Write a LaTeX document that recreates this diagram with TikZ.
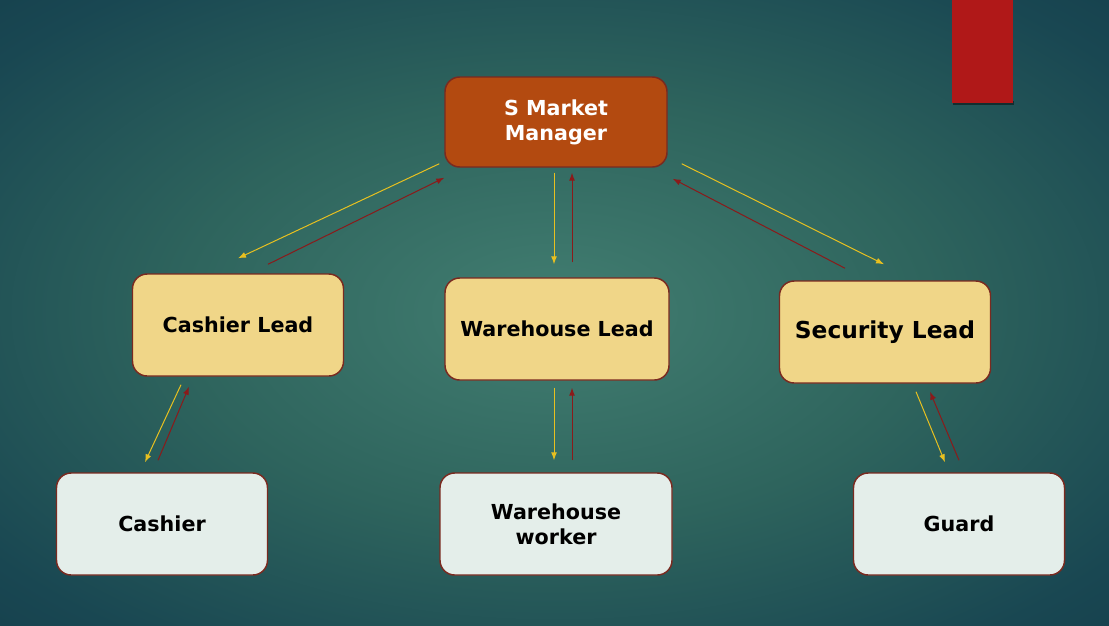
\documentclass[tikz,border=0pt]{standalone}
\usepackage{fontspec}
\setmainfont{DejaVu Sans}
\usetikzlibrary{arrows.meta}
\definecolor{bgin}{HTML}{427E71}
\definecolor{bgmid}{HTML}{2E645D}
\definecolor{bgedge}{HTML}{194752}
\definecolor{bgout}{HTML}{0E3141}
\definecolor{mgrfill}{HTML}{B34A10}
\definecolor{leadfill}{HTML}{F0D688}
\definecolor{staffill}{HTML}{E4EEEA}
\definecolor{boxline}{HTML}{7A2A20}
\definecolor{banner}{HTML}{B01818}
\definecolor{downline}{HTML}{E8C020}
\definecolor{upline}{HTML}{8B1A1A}
\pgfdeclareradialshading{bgglow}{\pgfpoint{0bp}{0bp}}{color(0bp)=(bgin); color(17bp)=(bgmid); color(32bp)=(bgedge); color(50bp)=(bgout)}

\begin{document}
\begin{tikzpicture}[x=0.75pt,y=-0.75pt,
    box/.style={draw=boxline, line width=1.1pt, rounded corners=11pt, inner sep=0pt,
      minimum width=158.25pt, minimum height=76.5pt, align=center,
      font=\bfseries\fontsize{15.5}{18.75}\selectfont},
    lead/.style={box, fill=leadfill},
    staff/.style={box, fill=staffill},
    down/.style={draw=downline, line width=0.75pt, -{Latex[length=6pt,width=4.5pt]}},
    up/.style={draw=upline, line width=0.75pt, -{Latex[length=6pt,width=4.5pt]}}]
    \shade[shading=bgglow] (0,0) rectangle (1109,625);
    \fill[black, opacity=0.45] (953,101) rectangle (1014,105);
    \fill[banner] (952,0) rectangle (1013,103);

    \node [box, fill=mgrfill, text=white, minimum width=166.5pt, minimum height=67.5pt] (mgr) at (556,122) {\raisebox{-2.2pt}{S Market}\\\raisebox{-2.2pt}{Manager}};
    \node [lead] (cl) at (238,325) {Cashier Lead};
    \node [lead, minimum width=168pt] (wl) at (557,329) {Warehouse Lead};
    \node [lead, font=\bfseries\fontsize{17.5}{20}\selectfont] (sl) at (885,332) {Security Lead};
    \node [staff] (ca) at (162,524) {Cashier};
    \node [staff, minimum width=174pt] (ww) at (556,524) {Warehouse\\worker};
    \node [staff] (gd) at (959,524) {Guard};

    \draw [down] ([shift={(-5,-4)}]mgr.south west) -- ([shift={(0,-15)}]cl.north);
    \draw [up] ([shift={(30,-9)}]cl.north) -- ([shift={(0,10)}]mgr.south west);
    \draw [down] ([shift={(-2,5)}]mgr.south) -- ([shift={(-3,-13)}]wl.north);
    \draw [up] ([shift={(15,-15)}]wl.north) -- ([shift={(16,5)}]mgr.south);
    \draw [down] ([shift={(14,-4)}]mgr.south east) -- ([shift={(-1,-16)}]sl.north);
    \draw [up] ([shift={(-40,-12)}]sl.north) -- ([shift={(5,11)}]mgr.south east);

    \draw [down] ([shift={(-57,8)}]cl.south) -- ([shift={(-17,-10)}]ca.north);
    \draw [up] ([shift={(-4,-12)}]ca.north) -- ([shift={(-49,10)}]cl.south);
    \draw [down] ([shift={(-3,7)}]wl.south) -- ([shift={(-2,-12)}]ww.north);
    \draw [up] ([shift={(16,-12)}]ww.north) -- ([shift={(15,7)}]wl.south);
    \draw [down] ([shift={(31,8)}]sl.south) -- ([shift={(-14,-10)}]gd.north);
    \draw [up] ([shift={(0,-12)}]gd.north) -- ([shift={(45,8)}]sl.south);
\end{tikzpicture}
\end{document}
